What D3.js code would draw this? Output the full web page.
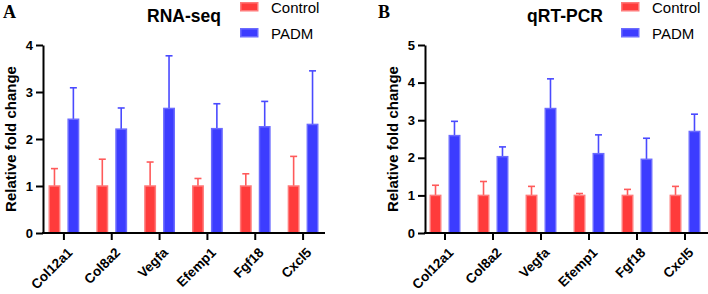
<!DOCTYPE html>
<html>
<head>
<meta charset="utf-8">
<script src="https://cdn.jsdelivr.net/npm/d3@7"></script>
<style>
  body { margin: 0; background: #fff; }
  svg { display: block; font-family: "Liberation Sans", Arial, sans-serif; }
</style>
</head>
<body>
<div id="chart"></div>
<script>
// data
const genes = ["Col12a1", "Col8a2", "Vegfa", "Efemp1", "Fgf18", "Cxcl5"];
const groups = ["Control", "PADM"];

const rnaControl = [1, 1, 1, 1, 1, 1];
const rnaControlErr = [0.37, 0.57, 0.51, 0.16, 0.26, 0.63];
const rnaPadm = [2.42, 2.21, 2.65, 2.22, 2.26, 2.31];
const rnaPadmErr = [0.67, 0.45, 1.12, 0.53, 0.54, 1.14];

const pcrControl = [1, 1, 1, 1, 1, 1];
const pcrControlErr = [0.27, 0.37, 0.24, 0.05, 0.16, 0.24];
const pcrPadm = [2.59, 2.03, 3.31, 2.11, 1.96, 2.70];
const pcrPadmErr = [0.38, 0.26, 0.79, 0.50, 0.56, 0.46];

const rnaTicks = [0, 1, 2, 3, 4];
const pcrTicks = [0, 1, 2, 3, 4, 5];

const width = 708, height = 294;
const fills = {Control: "#ff3b3b", PADM: "#3c3cff"};
const strokes = {Control: "#ff7a7a", PADM: "#6b6bff"};
const errColor = {Control: "#ff5a5a", PADM: "#4a4aff"};

const svg = d3.select("#chart").append("svg")
  .attr("width", width)
  .attr("height", height)
  .attr("viewBox", [0, 0, width, height]);

function drawPanel(p) {
  const g = svg.append("g");

  const x = d3.scaleBand().domain(genes).range(p.xRange);
  const xi = d3.scaleBand().domain(groups).range([0, x.step()])
    .paddingInner(0.37).paddingOuter(0.45);
  const y = d3.scaleLinear().domain([0, d3.max(p.ticks)]).range([233, 45]);

  const rows = [];
  genes.forEach((gene, i) => {
    rows.push({gene, group: "Control", value: p.control[i], err: p.controlErr[i]});
    rows.push({gene, group: "PADM", value: p.padm[i], err: p.padmErr[i]});
  });

  // error bars (upper only)
  const eb = g.append("g").selectAll("g").data(rows).join("g")
    .attr("stroke", d => errColor[d.group])
    .attr("stroke-width", 1.6);
  eb.append("line")
    .attr("x1", d => x(d.gene) + xi(d.group) + xi.bandwidth() / 2)
    .attr("x2", d => x(d.gene) + xi(d.group) + xi.bandwidth() / 2)
    .attr("y1", d => y(d.value))
    .attr("y2", d => y(d.value + d.err));
  eb.append("line")
    .attr("x1", d => x(d.gene) + xi(d.group) + xi.bandwidth() / 2 - 3.5)
    .attr("x2", d => x(d.gene) + xi(d.group) + xi.bandwidth() / 2 + 3.5)
    .attr("y1", d => y(d.value + d.err))
    .attr("y2", d => y(d.value + d.err));

  // bars
  g.append("g").selectAll("rect").data(rows).join("rect")
    .attr("x", d => x(d.gene) + xi(d.group) + 0.75)
    .attr("y", d => y(d.value))
    .attr("width", xi.bandwidth() - 1.5)
    .attr("height", d => y(0) - y(d.value))
    .attr("fill", d => fills[d.group])
    .attr("stroke", d => strokes[d.group])
    .attr("stroke-width", 1.5);

  // y axis
  g.append("g")
    .attr("transform", `translate(${p.axisX},0)`)
    .call(d3.axisLeft(y).tickValues(p.ticks).tickFormat(d3.format("d")).tickSize(7).tickSizeOuter(0).tickPadding(3))
    .call(a => a.selectAll("path,line").attr("stroke", "#000").attr("stroke-width", 2))
    .call(a => a.selectAll("text").attr("font-size", 13).attr("font-weight", "bold")
      .attr("fill", "#000").attr("font-family", "Liberation Sans, Arial, sans-serif"));

  // x axis
  g.append("g")
    .attr("transform", `translate(0,${y(0)})`)
    .call(d3.axisBottom(x).tickSize(7).tickSizeOuter(0))
    .call(a => a.select(".domain").remove())
    .call(a => a.selectAll("line").attr("stroke", "#000").attr("stroke-width", 2))
    .call(a => a.selectAll("text")
      .attr("font-size", 13.5).attr("font-weight", "bold").attr("fill", "#000")
      .attr("font-family", "Liberation Sans, Arial, sans-serif")
      .attr("text-anchor", "end")
      .attr("x", 0).attr("y", 0).attr("dy", "0.35em")
      .attr("transform", "translate(6,17) rotate(-45)"));
  g.append("line")
    .attr("x1", p.axisX - 1).attr("x2", p.xEnd)
    .attr("y1", y(0)).attr("y2", y(0))
    .attr("stroke", "#000").attr("stroke-width", 2);

  // y label
  g.append("text")
    .attr("transform", `translate(${p.labelX},139) rotate(-90)`)
    .attr("text-anchor", "middle")
    .attr("font-size", 15).attr("font-weight", "bold")
    .text("Relative fold change");

  // title
  g.append("text")
    .attr("x", p.titleX).attr("y", 22)
    .attr("text-anchor", "middle")
    .attr("font-size", 17.5).attr("font-weight", "bold")
    .text(p.title);

  // panel letter
  g.append("text")
    .attr("x", p.letterX).attr("y", 18)
    .attr("font-family", "Liberation Serif, Times New Roman, serif")
    .attr("font-size", 18).attr("font-weight", "bold")
    .text(p.letter);

  // legend
  const lg = g.append("g").selectAll("g").data(groups).join("g")
    .attr("transform", (d, i) => `translate(${p.legendX},${2 + i * 26})`);
  lg.append("rect")
    .attr("x", 0.75).attr("y", 0.75).attr("width", 17).attr("height", 8)
    .attr("fill", d => fills[d]).attr("stroke", d => strokes[d]).attr("stroke-width", 1.5);
  lg.append("text")
    .attr("x", 31).attr("y", 10.5)
    .attr("font-size", 15)
    .text(d => d);
}

drawPanel({
  title: "RNA-seq", letter: "A", letterX: 3, titleX: 184,
  xRange: [40, 327], axisX: 43, xEnd: 325, labelX: 16, legendX: 240,
  ticks: rnaTicks,
  control: rnaControl, controlErr: rnaControlErr, padm: rnaPadm, padmErr: rnaPadmErr
});

drawPanel({
  title: "qRT-PCR", letter: "B", letterX: 378, titleX: 565,
  xRange: [421, 709], axisX: 425, xEnd: 708, labelX: 398, legendX: 621,
  ticks: pcrTicks,
  control: pcrControl, controlErr: pcrControlErr, padm: pcrPadm, padmErr: pcrPadmErr
});
</script>
</body>
</html>
